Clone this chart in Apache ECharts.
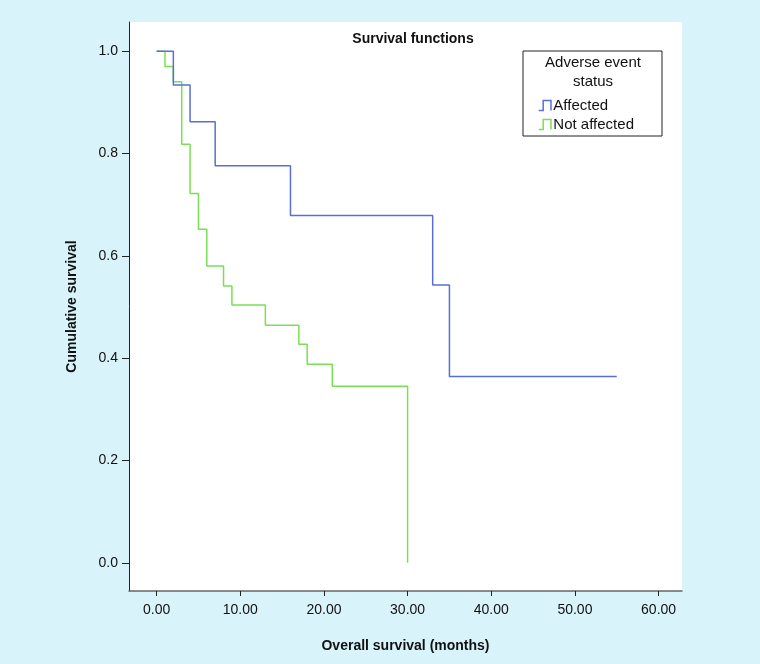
<!DOCTYPE html>
<html>
<head>
<meta charset="utf-8">
<script src="https://cdn.jsdelivr.net/npm/echarts@6/dist/echarts.min.js"></script>
<style>
html,body{margin:0;padding:0;background:#d9f3fb;}
#chart{width:760px;height:664px;}
</style>
</head>
<body>
<div id="chart"></div>
<script>
// Data (months, cumulative survival)
var affectedTime = [0, 2, 4, 7, 16, 33, 35, 55];
var affectedSurv = [1.0, 0.934, 0.862, 0.776, 0.679, 0.543, 0.364, 0.364];
var notAffectedTime = [0, 1, 2, 3, 4, 5, 6, 8, 9, 13, 17, 18, 21, 30];
var notAffectedSurv = [1.0, 0.97, 0.94, 0.818, 0.722, 0.652, 0.58, 0.541, 0.504, 0.4645, 0.427, 0.388, 0.345, 0.0];
var xTicks = [0, 10, 20, 30, 40, 50, 60];
var yTicks = [0, 0.2, 0.4, 0.6, 0.8, 1.0];
var seriesNames = ['Affected', 'Not affected'];
var seriesColors = ['#5a6ed8', '#79e055'];

function pairs(t, s) { return t.map(function (v, i) { return [v, s[i]]; }); }

var chart = echarts.init(document.getElementById('chart'), null, {renderer: 'canvas'});
var font = 'Liberation Sans, Arial, sans-serif';
var option = {
  backgroundColor: '#d9f3fb',
  animation: false,
  textStyle: {fontFamily: font},
  grid: {left: 129, right: 78, top: 22, bottom: 73, show: true, backgroundColor: '#ffffff', borderWidth: 0},
  title: {
    text: 'Survival functions', left: 408, top: 27, textAlign: 'center',
    textStyle: {fontFamily: font, fontSize: 14, fontWeight: 'bold', color: '#111'}
  },
  legend: {
    data: seriesNames.map(function (n, i) {
      return {name: n, itemStyle: {color: 'transparent', borderColor: seriesColors[i], borderWidth: 1.5}};
    }),
    orient: 'vertical', left: 533, top: 93, itemGap: 4,
    itemWidth: 15, itemHeight: 10,
    icon: 'path://M0,10 L4,10 L4,1 L11,1 L11,10',
    textStyle: {fontFamily: font, fontSize: 15, color: '#111', padding: [0, 0, 0, -4]},
    selectedMode: false
  },
  graphic: [
    {type: 'rect', shape: {x: 523, y: 51, width: 139, height: 85}, style: {fill: '#ffffff', stroke: '#222', lineWidth: 1}, z: 0},
    {type: 'text', style: {text: 'Adverse event', x: 593, y: 55, textAlign: 'center', fontFamily: font, fontSize: 15, fill: '#111'}, z: 1},
    {type: 'text', style: {text: 'status', x: 593, y: 74, textAlign: 'center', fontFamily: font, fontSize: 15, fill: '#111'}, z: 1}
  ],
  xAxis: {
    type: 'value', min: -3.3, max: 62.8,
    name: 'Overall survival (months)', nameLocation: 'middle', nameGap: 48,
    nameTextStyle: {fontFamily: font, fontSize: 14, fontWeight: 'bold', color: '#111'},
    axisLine: {onZero: false, lineStyle: {color: '#666', width: 1.5}},
    axisTick: {customValues: xTicks, length: 5, lineStyle: {color: '#222'}},
    axisLabel: {customValues: xTicks, formatter: function (v) { return v.toFixed(2); }, fontSize: 14, color: '#111', margin: 12, fontFamily: font},
    splitLine: {show: false}
  },
  yAxis: {
    type: 'value', min: -0.055, max: 1.057,
    name: 'Cumulative survival', nameLocation: 'middle', nameGap: 50,
    nameTextStyle: {fontFamily: font, fontSize: 14, fontWeight: 'bold', color: '#111'},
    axisLine: {show: true, onZero: false, lineStyle: {color: '#222', width: 1}},
    axisTick: {show: true, customValues: yTicks, length: 7, lineStyle: {color: '#222'}},
    axisLabel: {customValues: yTicks, formatter: function (v) { return v.toFixed(1); }, fontSize: 14, color: '#111', margin: 11, fontFamily: font},
    splitLine: {show: false}
  },
  series: [
    {name: seriesNames[0], type: 'line', step: 'end', data: pairs(affectedTime, affectedSurv), showSymbol: false, symbol: 'none',
     color: seriesColors[0], lineStyle: {color: seriesColors[0], width: 1.5}, z: 3},
    {name: seriesNames[1], type: 'line', step: 'end', data: pairs(notAffectedTime, notAffectedSurv), showSymbol: false, symbol: 'none',
     color: seriesColors[1], lineStyle: {color: seriesColors[1], width: 1.5}, z: 2}
  ]
};
chart.setOption(option);
</script>
</body>
</html>
